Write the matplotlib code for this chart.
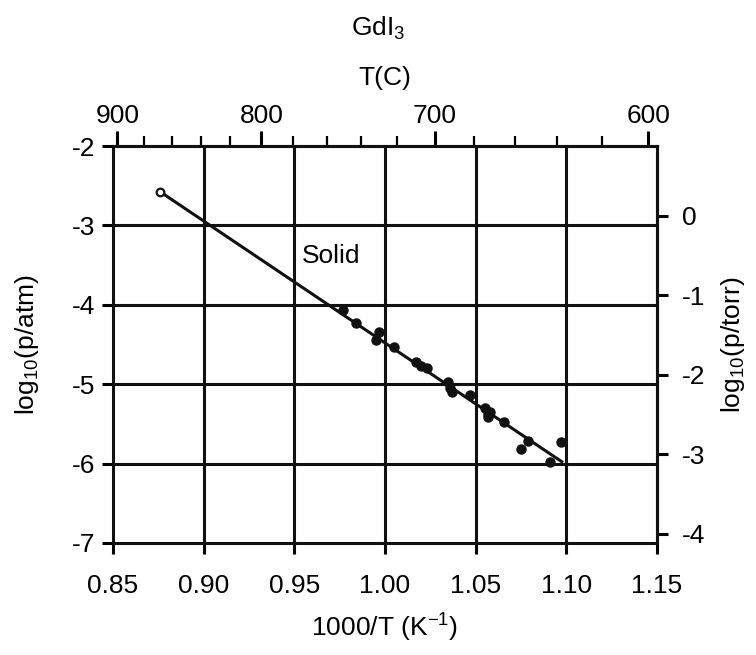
import numpy as np
import matplotlib
matplotlib.use('Agg')
import matplotlib.pyplot as plt
from matplotlib.ticker import FixedLocator, NullFormatter

plt.rcParams['font.family'] = ['Liberation Sans', 'DejaVu Sans']
plt.rcParams['mathtext.fontset'] = 'custom'
plt.rcParams['mathtext.rm'] = 'Liberation Sans'
plt.rcParams['mathtext.default'] = 'regular'

# measured vapour pressure points, 1000/T vs log10(p/atm)
inv_t = [0.977, 0.984, 0.9967, 0.995, 1.005, 1.017, 1.0197, 1.023, 1.0346, 1.036,
         1.0368, 1.047, 1.055, 1.057, 1.058, 1.057, 1.0657, 1.0787, 1.0749, 1.097, 1.091]
log_p = [-4.065, -4.233, -4.346, -4.443, -4.535, -4.716, -4.767, -4.80, -4.976, -5.044,
         -5.094, -5.136, -5.30, -5.375, -5.346, -5.417, -5.47, -5.715, -5.81, -5.724, -5.98]

# fitted line for solid
fit_x = [0.876, 1.0975]
fit_y = [-2.576, -5.976]

x_ticks = [0.85, 0.90, 0.95, 1.00, 1.05, 1.10, 1.15]
y_ticks = [-7, -6, -5, -4, -3, -2]
tc_major = [900, 800, 700, 600]
tc_minor = list(range(880, 600, -20))
torr_ticks = [0, -1, -2, -3, -4]

fs = 19
fig = plt.figure(figsize=(7.56, 6.55), dpi=100)
ax = fig.add_axes([0.1495, 0.171, 0.7195, 0.606])

ax.set_xlim(0.85, 1.15)
ax.set_ylim(-7, -2)
for xv in x_ticks[1:-1]:
    ax.axvline(xv, color='#111111', lw=2.2, zorder=1)
for yv in y_ticks[1:-1]:
    ax.axhline(yv, color='#111111', lw=2.2, zorder=1)

ax.plot(fit_x, fit_y, color='#111111', lw=2.2, zorder=3)
ax.plot(fit_x[0], fit_y[0], 'o', ms=5.5, mfc='white', mec='#111111', mew=1.6, zorder=4)
ax.plot(inv_t, log_p, 'o', ms=6.5, color='#111111', zorder=4)
ax.text(0.954, -3.39, 'Solid', fontsize=fs, va='center', ha='left')

for s in ax.spines.values():
    s.set_linewidth(2.2)
    s.set_color('#111111')

ax.set_xticks(x_ticks)
ax.set_xticklabels(['%.2f' % v for v in x_ticks])
ax.set_yticks(y_ticks)
ax.set_yticklabels([str(v) for v in y_ticks])
ax.tick_params(axis='both', direction='out', length=8, width=2.2, labelsize=fs, pad=5)
ax.tick_params(axis='x', pad=14)
ax.set_xlabel('1000/T (K$^{-1}$)', fontsize=fs, labelpad=10)
ax.set_ylabel('log$_{10}$(p/atm)', fontsize=fs, labelpad=22)

# top axis in degrees C
def to_c(x):
    x = np.asarray(x, dtype=float)
    with np.errstate(divide='ignore'):
        return 1000.0 / x - 273.15

def from_c(t):
    t = np.asarray(t, dtype=float)
    with np.errstate(divide='ignore'):
        return 1000.0 / (t + 273.15)

top = ax.secondary_xaxis('top', functions=(to_c, from_c))
top.xaxis.set_major_locator(FixedLocator(tc_major))
top.xaxis.set_minor_locator(FixedLocator(tc_minor))
top.xaxis.set_minor_formatter(NullFormatter())
top.tick_params(which='major', direction='out', length=11, width=2.2, labelsize=fs, pad=2)
top.tick_params(which='minor', direction='out', length=7, width=1.6)
top.set_xlabel('T(C)', fontsize=fs, labelpad=14)
top.spines['top'].set_linewidth(2.2)

# right axis in torr
off = np.log10(760.0)
right = ax.secondary_yaxis('right', functions=(lambda y: y + off, lambda y: y - off))
right.yaxis.set_major_locator(FixedLocator(torr_ticks))
right.set_yticklabels([str(v) for v in torr_ticks])
right.tick_params(direction='out', length=8, width=2.2, labelsize=fs, pad=10)
right.set_ylabel('log$_{10}$(p/torr)', fontsize=fs, labelpad=10)
right.spines['right'].set_linewidth(2.2)

fig.text(0.5, 0.957, 'GdI$_3$', fontsize=fs, ha='center', va='center')

fig.savefig('out.png', dpi=100)
